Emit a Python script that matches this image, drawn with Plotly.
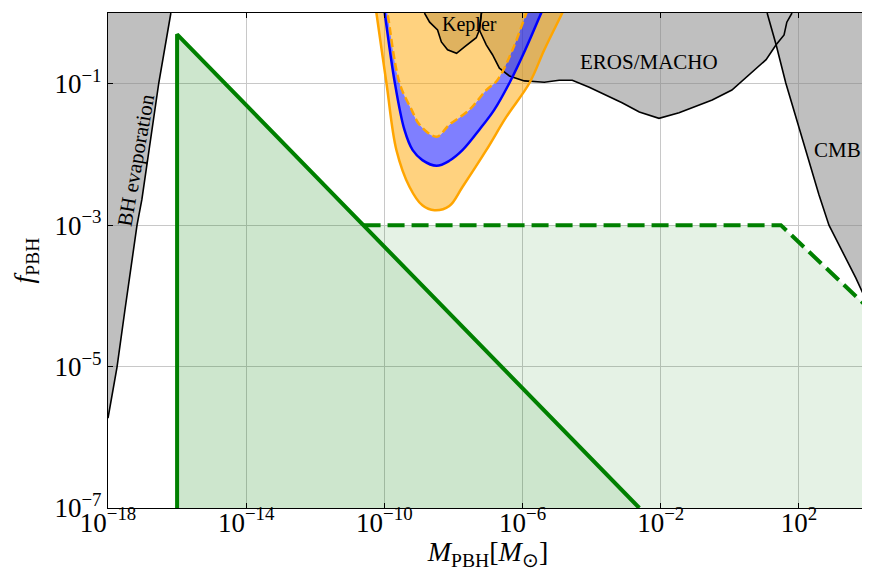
import numpy as np
import plotly.graph_objects as go

# axis limits, log10 units
x_lim = [-18, 4]
y_lim = [-7, 0]

x_ticks = [1e-18, 1e-14, 1e-10, 1e-6, 1e-2, 1e2]
x_ticktext = ['10<sup>−18</sup>', '10<sup>−14</sup>', '10<sup>−10</sup>',
              '10<sup>−6</sup>', '10<sup>−2</sup>', '10<sup>2</sup>']
y_ticks = [1e-7, 1e-5, 1e-3, 1e-1, 1]
y_ticktext = ['10<sup>−7</sup>', '10<sup>−5</sup>', '10<sup>−3</sup>', '10<sup>−1</sup>', '1']

# existing constraints (log10 M/Msun, log10 f)
bh_logm = [-18.0, -17.74, -17.51, -17.16, -17.02, -16.53, -16.18]
bh_logf = [-5.73, -5.01, -4.20, -3.00, -2.64, -0.99, 0.0]

kepler_logm = [-8.84, -8.69, -8.46, -8.35, -8.17, -7.91, -7.68, -7.34, -7.25, -7.19]
kepler_logf = [0.0, -0.13, -0.24, -0.41, -0.52, -0.57, -0.48, -0.35, -0.24, 0.0]

eros_logm = [-7.19, -7.25, -7.05, -6.87, -6.67, -6.38, -5.95, -5.37, -4.94, -4.56, -4.07, -3.58,
             -3.12, -2.62, -2.05, -1.47, -0.89, -0.51, 0.06, 0.55, 1.05, 1.34, 1.57, 1.65, 1.80]
eros_logf = [0.0, -0.24, -0.45, -0.59, -0.78, -0.89, -0.96, -0.98, -0.95, -0.95, -1.05, -1.16,
             -1.27, -1.40, -1.49, -1.41, -1.30, -1.23, -1.09, -0.88, -0.66, -0.45, -0.31, -0.13, 0.0]
eros_cmb_cross = 21  # index where EROS meets the CMB curve

cmb_logm = [1.08, 1.34, 1.62, 2.00, 2.35, 2.58, 2.87, 3.30, 3.65, 4.0]
cmb_logf = [0.0, -0.45, -0.99, -1.63, -2.22, -2.57, -3.00, -3.42, -3.75, -4.12]

# forecast sensitivity bands
outer_logm = [-10.31, -10.23, -9.94, -9.65, -9.27, -8.90, -8.55, -8.12, -7.74, -7.05, -6.47, -5.80, -5.37, -4.85, -4.56]
outer_logf = [0.3, 0.0, -0.99, -1.94, -2.46, -2.72, -2.79, -2.73, -2.46, -1.94, -1.47, -0.99, -0.52, 0.0, 0.3]

blue_logm = [-10.08, -9.99, -9.71, -9.42, -9.18, -8.90, -8.49, -8.12, -7.74, -7.25, -6.82, -6.38, -5.92, -5.46, -5.20]
blue_logf = [0.3, 0.0, -0.95, -1.65, -1.94, -2.08, -2.16, -2.09, -1.94, -1.65, -1.37, -0.99, -0.52, 0.0, 0.3]

inner_logm = [-10.02, -9.91, -9.56, -9.21, -8.98, -8.49, -8.12, -7.54, -7.05, -6.73, -6.29, -5.89, -5.66]
inner_logf = [0.3, 0.0, -0.99, -1.37, -1.58, -1.75, -1.58, -1.37, -1.09, -0.95, -0.52, 0.0, 0.3]

# green bounds
green_solid_m = [1e-16, 1e-16, 2.4e-3]
green_solid_f = [1e-7, 0.5, 1e-7]
green_dash_m = [2.5e-11, 30, 1e4]
green_dash_f = [1e-3, 1e-3, 6.8e-5]


def lin(v):
    return list(10 ** np.array(v, dtype=float))


x_lo, x_hi = 10.0 ** x_lim[0], 10.0 ** x_lim[1]
y_lo, y_hi = 10.0 ** y_lim[0], 10.0 ** y_lim[1]

GRAY = 'rgba(128,128,128,0.5)'
ORANGE = 'rgb(255,165,0)'
ORANGE_FILL = 'rgba(255,165,0,0.5)'
BLUE_FILL = 'rgba(0,0,255,0.5)'
GREEN_FILL = 'rgba(0,128,0,0.1)'
FONT = 'Liberation Serif'

fig = go.Figure()


def fill(x, y, color, shape='linear'):
    fig.add_trace(go.Scatter(x=x, y=y, mode='lines', fill='toself', fillcolor=color,
                             line=dict(width=0, shape=shape), hoverinfo='skip'))


def line(x, y, color, width, dash='solid', shape='linear'):
    fig.add_trace(go.Scatter(x=x, y=y, mode='lines',
                             line=dict(color=color, width=width, dash=dash, shape=shape),
                             hoverinfo='skip'))


# gray constraint regions
fill(lin(bh_logm) + [x_lo], lin(bh_logf) + [y_hi], GRAY)
fill(lin(kepler_logm), lin(kepler_logf), GRAY)
k = eros_cmb_cross
fill(lin(eros_logm[:k + 1]) + lin(cmb_logm[:1]), lin(eros_logf[:k + 1]) + lin(cmb_logf[:1]), GRAY)
fill(lin(cmb_logm) + [x_hi], lin(cmb_logf) + [y_hi], GRAY)

# green regions
fill(green_solid_m[:2] + green_dash_m + [x_hi], green_solid_f[:2] + green_dash_f + [y_lo], GREEN_FILL)
fill(green_solid_m, green_solid_f, GREEN_FILL)

# orange / blue bands
fill(lin(outer_logm) + lin(blue_logm)[::-1], lin(outer_logf) + lin(blue_logf)[::-1], ORANGE_FILL, 'spline')
fill(lin(blue_logm) + lin(inner_logm)[::-1], lin(blue_logf) + lin(inner_logf)[::-1], BLUE_FILL, 'spline')
fill(lin(inner_logm), lin(inner_logf), ORANGE_FILL, 'spline')

# contour lines
line(lin(bh_logm), lin(bh_logf), 'black', 1.6)
line(lin(kepler_logm), lin(kepler_logf), 'black', 1.6)
line(lin(eros_logm), lin(eros_logf), 'black', 1.6)
line(lin(cmb_logm), lin(cmb_logf), 'black', 1.6)

line(lin(outer_logm), lin(outer_logf), ORANGE, 2.5, shape='spline')
line(lin(inner_logm), lin(inner_logf), ORANGE, 2.5, dash='8px,4px', shape='spline')
line(lin(blue_logm), lin(blue_logf), 'blue', 2.5, shape='spline')

line(green_solid_m, green_solid_f, 'green', 4)
line(green_dash_m, green_dash_f, 'green', 4, dash='17px,7px')

labels = [
    ('BH evaporation', -17.19, -2.08, -80, 21),
    ('Kepler', -7.54, -0.16, 0, 20),
    ('EROS/MACHO', -2.34, -0.69, 0, 21),
    ('CMB', 3.13, -1.94, 0, 21),
]
for txt, lx, ly, ang, size in labels:
    fig.add_annotation(x=lx, y=ly, xref='x', yref='y', text=txt, showarrow=False,
                       textangle=ang, font=dict(family=FONT, size=size, color='black'))

axis_style = dict(type='log', ticks='inside', ticklen=5, tickcolor='black', showline=True,
                  linecolor='black', linewidth=1.2, mirror='ticks', showgrid=True,
                  gridcolor='#c8c8c8', gridwidth=1, zeroline=False, automargin=False,
                  tickfont=dict(family=FONT, size=27, color='black'))

# page body adds an 8px offset, so the figure is 8px smaller and margins shifted
fig.update_layout(
    width=862, height=563,
    margin=dict(l=100, r=2, t=5, b=63, autoexpand=False),
    plot_bgcolor='white', paper_bgcolor='white',
    showlegend=False,
    xaxis=dict(axis_style, range=x_lim, tickvals=x_ticks, ticktext=x_ticktext,
               ticklabelstandoff=-10,
               title=dict(text='<i>M</i><sub>PBH</sub>[<i>M</i><sub>⊙</sub>]',
                          font=dict(family=FONT, size=28, color='black'))),
    yaxis=dict(axis_style, range=y_lim, tickvals=y_ticks, ticktext=y_ticktext,
               ticklabelstandoff=0,
               title=dict(text='<i>f</i><sub>PBH</sub>',
                          font=dict(family=FONT, size=28, color='black'))),
)

fig.write_html("out.html")
